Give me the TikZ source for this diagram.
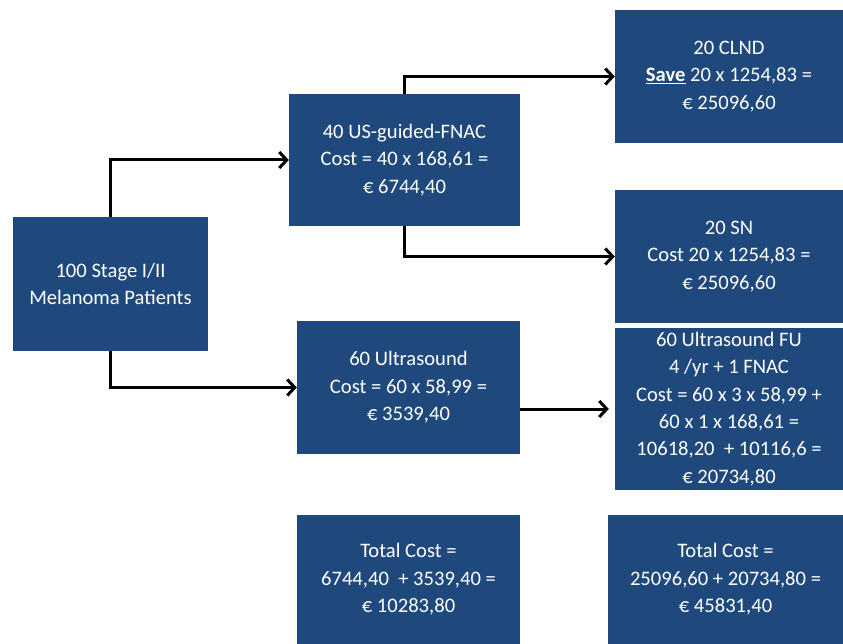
\documentclass[tikz,border=0pt]{standalone}
\usepackage{fontspec}
\setmainfont{Carlito}
\usepackage{tikz}
\usetikzlibrary{arrows.meta,positioning}
\definecolor{boxblue}{RGB}{31,73,125}

\begin{document}
\begin{tikzpicture}[x=1pt,y=-1pt]
\tikzstyle{box}=[fill=boxblue, text=white, align=center, inner sep=0pt, font=\fontsize{20.6}{27.4}\selectfont];
\tikzstyle{link}=[line width=3pt, -{Straight Barb[length=7.5pt,width=16pt,line width=3pt]}];
\useasboundingbox (0,0) rectangle (843,644);
\path (110.5,284) node (pat)[box, minimum width=195pt, minimum height=134pt] {100 Stage I/II\\Melanoma Patients}
(404.5,160) node (fnac)[box, minimum width=231pt, minimum height=132pt] {40 US-guided-FNAC\\Cost = 40 x 168,61 =\\€ 6744,40}
(729,76.5) node (clnd)[box, minimum width=228pt, minimum height=133pt] {20 CLND\\\underline{\textbf{Save}} 20 x 1254,83 =\\€ 25096,60}
(729,256.5) node (sn)[box, minimum width=228pt, minimum height=133pt] {20 SN\\Cost 20 x 1254,83 =\\€ 25096,60}
(408.5,387.5) node (us)[box, minimum width=223pt, minimum height=133pt] {60 Ultrasound\\Cost = 60 x 58,99 =\\€ 3539,40}
(729,409) node (fu)[box, minimum width=228pt, minimum height=162pt] {60 Ultrasound FU\\4 /yr + 1 FNAC\\Cost = 60 x 3 x 58,99 +\\60 x 1 x 168,61 =\\10618,20 \ + 10116,6 =\\€ 20734,80}
(408.5,579.5) node (totl)[box, minimum width=223pt, minimum height=129pt] {Total Cost =\\6744,40 \ + 3539,40 =\\€ 10283,80}
(725.5,579.5) node (totr)[box, minimum width=235pt, minimum height=129pt] {Total Cost =\\25096,60 + 20734,80 =\\€ 45831,40};
\draw[link] (pat.north) |- (fnac.west);
\draw[link] (pat.south) |- (us.west);
\draw[link] (fnac.north) |- (clnd.west);
\draw[link] (fnac.south) |- (sn.west);
\draw[link, shorten >=6pt] (us.east |- fu.west) -- (fu.west);
\end{tikzpicture}
\end{document}
